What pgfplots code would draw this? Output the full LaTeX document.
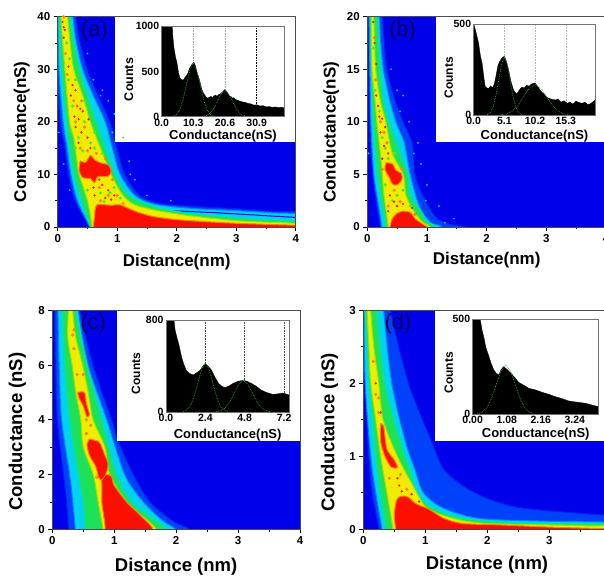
\documentclass[border=0pt]{standalone}
\usepackage{fontspec}
\setmainfont{Liberation Sans}
\usepackage{pgfplots}
\pgfplotsset{compat=1.18}
\definecolor{hb}{RGB}{0,0,235}
\definecolor{L1}{RGB}{0,65,250}\definecolor{D1}{RGB}{0,30,240}
\definecolor{L2}{RGB}{0,210,240}\definecolor{D2}{RGB}{0,130,255}
\definecolor{L3}{RGB}{30,225,90}\definecolor{D3}{RGB}{0,230,170}
\definecolor{L4}{RGB}{240,235,0}\definecolor{D4}{RGB}{150,230,0}
\definecolor{L5}{RGB}{250,15,0}\definecolor{D5}{RGB}{255,130,0}
\definecolor{fitg}{RGB}{70,165,70}
\newcommand\lev[2]{\addplot[smooth,fill=L#1,draw=D#1,line width=1pt,forget plot] coordinates {#2};}
\newcommand\specks[1]{\addplot[only marks,color=L5,mark=*,mark size=.9pt,mark options={draw=L5,fill=L5},forget plot] coordinates {#1};}
\newcommand\gsp[1]{\addplot[only marks,color=L3,mark=*,mark size=1.5pt,mark options={draw=D4,fill=L3},forget plot] coordinates {#1};}
\newcommand\osp[1]{\addplot[only marks,color=D5,mark=*,mark size=1.4pt,mark options={draw=D5,fill=D5},forget plot] coordinates {#1};}
\newcommand\csp[1]{\addplot[only marks,color=L2,mark=*,mark size=.7pt,mark options={draw=L2,fill=L2},forget plot] coordinates {#1};}
\newcommand\mf[1]{\fontsize{#1}{#1}\selectfont\bfseries}
\pgfplotsset{
 main/.style={scale only axis,xmin=0,xmax=4,xtick={0,1,2,3,4},minor x tick num=1,minor y tick num=1,
  tick align=outside,xtick pos=bottom,ytick pos=left,major tick length=4pt,minor tick length=2.5pt,
  axis on top,axis line style={draw=black!70,line width=.7pt},tick style={black,line width=.8pt},
  /pgf/number format/assume math mode=true,/pgf/number format/1000 sep={},ticklabel style={font=\mf{11.5}}},
 inset/.style={scale only axis,xmin=0,tick align=inside,xtick pos=bottom,ytick pos=left,
  major tick length=2pt,axis on top,axis line style={draw=black!55,line width=.5pt},tick style={black,line width=.5pt},
  /pgf/number format/assume math mode=true,/pgf/number format/1000 sep={},ticklabel style={font=\mf{10.5}},
  xticklabel style={yshift=1.5pt},yticklabel style={xshift=1pt},
  scaled ticks=false},
 fit/.style={fitg,densely dotted,line width=.7pt,forget plot},
 xl/.style n args={3}{xlabel style={font=\mf{#1},at={([xshift=#3,yshift=#2]axis description cs:.5,0)},anchor=center}},
 yl/.style n args={3}{ylabel style={font=\mf{#1},at={([xshift=#2,yshift=#3]axis description cs:0,.5)},anchor=center}},
}
\newcommand\vl[3]{\addplot[#3,densely dotted,line width=.6pt,forget plot] coordinates {(#1,0)(#1,#2)};}
\begin{document}
\begin{tikzpicture}
\useasboundingbox (0pt,0pt) rectangle (604pt,575pt);
\clip (0pt,0pt) rectangle (604pt,575pt);
% ---------- (a)
\begin{axis}[main,at={(57.7pt,348pt)},anchor=south west,width=238pt,height=210.3pt,ymin=0,ymax=40,ytick={0,10,20,30,40},
 xlabel={Distance(nm)},ylabel={Conductance(nS)},
 xl={17}{-34.7pt}{0pt},yl={17}{-36pt}{-10pt}]
\addplot[fill=hb,draw=none,forget plot] coordinates {(-1,-1)(5,-1)(5,41)(-1,41)} --cycle;
\lev{1}{(.29,42)(.36,36)(.5,30)(.68,25)(.88,20)(1.0,15)(1.13,10)(1.38,6)(1.72,4.5)(2.3,3.9)(2.95,3.5)(3.6,3)(4.2,2.6)(4.2,-1)(.55,-1)(.53,0)(.29,5)(.18,10)(.12,15)(.04,20)(-.02,30)(-.02,42)}
\csp{(.5,33)(.6,28)(.75,26)(.85,24)(.95,21.5)(1.1,17)(1.2,12.5)(1.3,9)(1.5,6)(1.9,5)(.02,18)(.1,12)(.2,7)(.42,3)(.72,25)(.92,18)(1.22,10)}
\lev{2}{(.24,42)(.3,36)(.42,30)(.6,25)(.8,20)(.92,15)(1.05,10)(1.3,6)(1.65,4.3)(2.3,3.5)(3,3.1)(3.6,2.7)(4.2,2.2)(4.2,-1)(.56,-1)(.54,0)(.33,5)(.22,10)(.16,15)(.09,20)(.02,30)(.0,42)}
\addplot[draw=hb,line width=1pt,forget plot] coordinates {(1.9,3.1)(2.6,2.75)(3.2,2.35)(4.1,1.75)};
\lev{3}{(.2,42)(.26,36)(.375,30)(.5,25)(.65,20)(.8,15)(.96,10)(1.2,6)(1.66,3.8)(2.2,2.6)(2.67,2.1)(3.3,1.5)(4.2,.9)(4.2,-1)(.57,-1)(.55,0)(.4,5)(.27,10)(.2,15)(.15,20)(.07,30)(.02,42)}
\lev{4}{(.15,42)(.2,36)(.27,30)(.42,25)(.55,20)(.72,15)(.9,10)(1.1,6)(1.35,4)(2,2.5)(3,1.2)(4.2,.5)(4.2,-1)(.59,-1)(.58,0)(.5,5)(.36,10)(.32,13)(.27,17)(.2,20)(.12,30)(.04,42)}
\gsp{(.15,35)(.2,32)(.18,28)(.3,28)(.25,23)(.45,24)(.35,17)(.45,20)(.55,16)(.42,14.5)(.62,15)(.75,14)(.5,7)(.72,6.5)(.88,6.5)(.78,4.8)(.95,7.5)(1.05,5.5)(.62,18)(.3,15)}
\osp{(.1,40)(.13,33)(.16,29)(.27,24)(.4,24)(.3,20)(.45,19)(.38,15)(.5,14.5)(.65,14)(.8,13)(.92,9)(.7,7.5)(.85,6)(1.0,6)(.72,5)(1.1,4.5)}
\lev{5}{(.6,-1)(.6,0)(.62,2)(.66,4.2)(.9,4.1)(1.05,4.2)(1.3,3)(1.6,2)(2,1.4)(2.5,1)(3,.7)(3.5,.5)(4.2,.15)(4.2,-1)}
\lev{5}{(.38,12.6)(.47,12.3)(.55,13.6)(.62,12.8)(.72,12.2)(.85,11.8)(.9,10.5)(.84,9.6)(.68,9.6)(.62,8.4)(.55,9.2)(.42,9.4)(.36,10.8)(.38,12.6)}
\specks{(.08,39)(.1,38)(.12,37.5)(.1,36)(.18,30.5)(.25,27)(.3,26)(.22,25)(.33,23)(.38,22.5)(.42,22)(.28,21)(.35,20.5)(.52,20.5)(.3,19)(.4,18)(.5,17)(.35,16)(.55,15)(.7,9)(.75,8)(.85,7)(.95,6)(.6,7.5)(.62,6)(.9,5.2)(.8,5.5)}
\addplot[fill=white,draw=none,forget plot] coordinates {(.96,16.1)(4.1,16.1)(4.1,41)(.96,41)} --cycle;
\node[font=\fontsize{22}{22}\selectfont,text=blue!35!black] at (axis cs:.62,37.4) {(a)};
\end{axis}
\begin{axis}[inset,at={(161.7pt,458.3pt)},anchor=south west,width=122.6pt,height=90.4pt,xmax=39.9,ymin=0,ymax=1000,
 xtick={0,10.3,20.6,30.9},xticklabels={0.0,10.3,20.6,30.9},ytick={0,500,1000},
 xlabel={Conductance(nS)},ylabel={Counts},
 xl={13}{-19.3pt}{0pt},yl={12.5}{-33pt}{-8pt}]
\vl{10.3}{1000}{gray!70}\vl{20.6}{1000}{gray!70}\vl{30.9}{1000}{black}
\addplot[fill=black,draw=black,line width=.3pt,forget plot] coordinates {(0,0)(0,1500)(3,1400)(3.6,900)(4,760)(4.5,660)(5,590)(5.5,480)(6,425)(6.5,410)(7,405)(7.5,430)(8,450)(8.5,480)(9,530)(9.5,560)(10,585)(10.5,600)(11,560)(11.5,490)(12,440)(12.5,380)(13,310)(13.5,265)(14,240)(14.5,215)(15,205)(15.5,215)(16,225)(16.5,210)(17,230)(17.5,240)(18,225)(18.5,245)(19,250)(19.5,265)(20,280)(20.5,300)(21,285)(21.5,260)(22,230)(22.5,225)(23,205)(23.5,210)(24,190)(25,178)(26,165)(27,160)(28,148)(29,142)(30,128)(31,132)(32,118)(33,122)(34,108)(35,112)(36,104)(37,108)(38,100)(39,106)(39.9,96)(39.9,0)};
\addplot[fit] coordinates {(3.7,6)(4.8,26)(5.9,80)(7,192)(8.1,358)(9.2,520)(10.3,590)(11.4,520)(12.5,358)(13.6,192)(14.7,80)(15.8,26)(16.9,6)};
\addplot[fit] coordinates {(13.4,3)(14.6,13)(15.8,39)(17,94)(18.2,176)(19.4,256)(20.6,290)(21.8,256)(23,176)(24.2,94)(25.4,39)(26.6,13)(27.8,3)};
\end{axis}
% ---------- (b)
\begin{axis}[main,at={(367.3pt,348pt)},anchor=south west,width=238.7pt,height=210.3pt,ymin=0,ymax=20,ytick={0,5,10,15,20},
 xlabel={Distance(nm)},ylabel={Conductance(nS)},
 xl={17}{-33pt}{0pt},yl={17}{-36pt}{-10.5pt}]
\addplot[fill=hb,draw=none,forget plot] coordinates {(-1,-1)(5,-1)(5,21)(-1,21)} --cycle;
\lev{1}{(.25,21)(.28,18)(.33,15)(.47,12)(.6,10)(.75,8)(.8,5)(.93,3)(1.14,1)(1.36,.3)(1.64,0)(1.7,-1)(.2,-1)(.22,0)(.16,2)(.09,5)(.04,10)(.02,20)(.02,21)}
\csp{(.4,15)(.5,13)(.6,12.5)(.7,10)(.85,8)(.9,6)(1.0,4)(1.2,2)(1.45,.8)(.02,7)(.55,11)(.78,7)(.98,2.5)(1.3,.4)}
\lev{2}{(.2,21)(.22,18)(.27,15)(.38,12)(.48,10)(.62,8)(.72,5)(.87,2)(1.05,.5)(1.25,0)(1.3,-1)(.22,-1)(.24,0)(.19,2)(.11,5)(.06,10)(.03,20)(.03,21)}
\lev{3}{(.17,21)(.19,18)(.22,15)(.27,12)(.36,10)(.55,7)(.68,5)(.72,3)(.9,1.5)(1.0,.5)(1.15,0)(1.2,-1)(.29,-1)(.31,0)(.25,2)(.17,5)(.1,10)(.07,15)(.05,20)(.05,21)}
\lev{4}{(.1,21)(.12,18)(.14,15)(.22,12)(.31,10)(.42,7)(.6,5)(.65,3)(.78,1.5)(.92,.5)(1.05,0)(1.1,-1)(.33,-1)(.35,0)(.28,3)(.25,5)(.22,7)(.16,10)(.13,12)(.08,15)(.07,20)(.07,21)}
\gsp{(.1,17)(.13,13)(.2,11)(.25,8.5)(.3,7.5)(.35,6.5)(.45,7)(.3,4)(.5,3)(.6,3.5)(.42,2.5)(.72,2)}
\osp{(.12,18)(.14,14)(.22,10)(.28,9)(.33,8)(.25,5.5)(.58,5.5)(.45,3.5)(.55,2.4)(.35,2)(.8,1.2)}
\lev{5}{(.37,-1)(.38,0)(.42,.8)(.5,1.3)(.6,1.5)(.72,1.4)(.8,.8)(.95,.2)(1.0,0)(1.02,-1)}
\lev{5}{(.31,6.1)(.42,6.0)(.48,5.4)(.57,5.1)(.58,4.5)(.5,4)(.42,4.1)(.36,4.8)(.3,5.4)(.31,6.1)}
\specks{(.1,19.5)(.12,17.5)(.15,15.5)(.15,12.5)(.18,11.5)(.2,10.5)(.25,10.3)(.3,9.5)(.22,9)(.28,7.7)(.35,7)(.25,6.5)(.38,3)(.5,2)(.45,2.4)(.35,1.5)(.6,2.2)(.75,1.8)}
\addplot[fill=white,draw=none,forget plot] coordinates {(1.15,8.05)(4.1,8.05)(4.1,21)(1.15,21)} --cycle;
\node[font=\fontsize{22}{22}\selectfont,text=blue!35!black] at (axis cs:.59,18.7) {(b)};
\end{axis}
\begin{axis}[inset,at={(473.7pt,459.7pt)},anchor=south west,width=121.6pt,height=91pt,xmax=20.2,ymin=0,ymax=500,
 xtick={0,5.1,10.2,15.3},xticklabels={0.0,5.1,10.2,15.3},ytick={0,500},
 xlabel={Conductance(nS)},ylabel={Counts},
 xl={13}{-20.7pt}{0pt},yl={12}{-25pt}{-8pt}]
\vl{5.1}{500}{gray!60}\vl{10.2}{500}{gray!60}\vl{15.3}{500}{gray!60}
\addplot[fill=black,draw=black,line width=.3pt,forget plot] coordinates {(0,0)(0,500)(.2,480)(.5,440)(.83,395)(1.1,330)(1.4,285)(1.7,205)(1.9,160)(2.2,150)(2.5,148)(2.8,162)(3.1,150)(3.4,170)(3.7,215)(4,270)(4.3,295)(4.7,315)(5.1,325)(5.4,300)(5.8,250)(6.2,185)(6.6,140)(6.9,125)(7.2,120)(7.6,140)(8,155)(8.4,150)(8.8,165)(9.2,160)(9.6,172)(10.2,178)(10.6,160)(11,140)(11.3,128)(11.8,112)(12.2,98)(12.6,92)(13,88)(13.6,84)(14,90)(14.5,72)(15,80)(15.5,66)(16,72)(16.5,62)(17,78)(17.5,70)(18,66)(18.5,72)(19,58)(19.5,66)(20.2,84)(20.2,0)};
\addplot[fit] coordinates {(2.25,3.5)(2.725,14)(3.2,43)(3.675,104)(4.15,194)(4.625,282)(5.1,320)(5.575,282)(6.05,194)(6.525,104)(7,43)(7.475,14)(7.95,3.5)};
\addplot[fit] coordinates {(4.5,2)(5.45,7.5)(6.4,23)(7.35,55)(8.3,103)(9.25,150)(10.2,170)(11.15,150)(12.1,103)(13.05,55)(14,23)(14.95,7.5)(15.9,2)};
\end{axis}
% ---------- (c)
\begin{axis}[main,at={(52.3pt,45.7pt)},anchor=south west,width=247.7pt,height=219pt,ymin=0,ymax=8,ytick={0,2,4,6,8},
 xlabel={Distance (nm)},ylabel={Conductance (nS)},
 xl={18.5}{-37.4pt}{0pt},yl={18.5}{-35pt}{-11.9pt}]
\addplot[fill=hb,draw=none,forget plot] coordinates {(-1,-1)(5,-1)(5,9)(-1,9)} --cycle;
\lev{1}{(.47,8.4)(.45,8)(.66,6)(.96,4)(1.07,3.2)(1.31,2)(1.58,1)(1.95,.3)(2.22,0)(2.3,-.4)(.25,-.4)(.26,0)(.23,1)(.18,2)(.08,4)(.05,6)(.04,8)(.04,8.4)}
\lev{2}{(.44,8.4)(.42,8)(.58,6)(.88,4)(1.17,2)(1.47,1)(1.79,.3)(2.0,0)(2.05,-.4)(.36,-.4)(.37,0)(.33,1)(.28,2)(.15,4)(.11,6)(.09,8)(.09,8.4)}
\lev{3}{(.4,8.4)(.38,8)(.56,6)(.8,4)(1.04,2)(1.28,1)(1.68,.3)(1.85,0)(1.9,-.4)(.53,-.4)(.53,0)(.5,1)(.42,2)(.28,4)(.2,6)(.16,8)(.16,8.4)}
\lev{4}{(.34,8.4)(.33,8)(.38,7)(.49,6)(.58,5)(.66,4)(.85,3)(.93,2)(1.2,1)(1.55,.3)(1.68,0)(1.72,-.4)(.82,-.4)(.82,0)(.74,1)(.66,2)(.5,3)(.46,4)(.38,5)(.32,6)(.25,7)(.26,8)(.26,8.4)}
\osp{(.35,7.3)(.33,7.1)(.4,5.65)(.5,5.65)(.35,6.6)(.62,3.8)(.55,3.5)(.55,4.0)(.72,1.9)}
\lev{5}{(.86,-.4)(.85,.16)(.82,.65)(.8,1)(.8,1.6)(.8,2.0)(.95,1.95)(1.0,1.6)(1.2,1)(1.36,.65)(1.58,.16)(1.62,0)(1.62,-.4)}
\lev{5}{(.6,3.3)(.75,3.2)(.8,3.0)(.85,2.7)(.9,2.4)(.88,2.1)(.8,1.8)(.75,1.9)(.7,2.3)(.6,2.7)(.56,3.1)(.6,3.3)}
\lev{5}{(.41,5)(.52,5)(.55,4.6)(.6,4.2)(.56,4.1)(.5,4.5)(.43,4.8)(.41,5)}
\addplot[fill=white,draw=none,forget plot] coordinates {(1.04,3.23)(4.1,3.23)(4.1,9)(1.04,9)} --cycle;
\node[font=\fontsize{22}{22}\selectfont,text=blue!35!black] at (axis cs:.66,7.5) {(c)};
\end{axis}
\begin{axis}[inset,at={(166pt,163pt)},anchor=south west,width=123.3pt,height=91.7pt,xmax=7.52,ymin=0,ymax=800,
 xtick={0,2.4,4.8,7.2},xticklabels={0.0,2.4,4.8,7.2},ytick={0,800},
 xlabel={Conductance(nS)},ylabel={Counts},
 xl={13}{-23pt}{0pt},yl={12}{-30pt}{-7.5pt}]
\vl{2.4}{800}{black!70}\vl{4.8}{800}{black!70}\vl{7.2}{800}{black!70}
\addplot[fill=black,draw=black,line width=.3pt,forget plot] coordinates {(0,0)(0,800)(.49,800)(.55,720)(.65,657)(.8,580)(.96,474)(1.1,410)(1.26,358)(1.45,335)(1.67,323)(1.85,340)(2.08,364)(2.25,400)(2.4,425)(2.6,395)(2.78,364)(3,300)(3.2,250)(3.4,225)(3.6,212)(3.85,228)(4.1,250)(4.4,268)(4.7,276)(4.95,268)(5.2,250)(5.5,225)(5.8,192)(6.1,172)(6.5,154)(6.8,158)(7.15,165)(7.52,148)(7.52,0)};
\addplot[fit] coordinates {(1.05,5)(1.275,19)(1.5,57)(1.725,138)(1.95,258)(2.175,375)(2.4,425)(2.625,375)(2.85,258)(3.075,138)(3.3,57)(3.525,19)(3.75,5)};
\addplot[fit] coordinates {(3.07,3)(3.345,12)(3.62,37)(3.895,89)(4.17,167)(4.445,243)(4.72,275)(4.995,243)(5.27,167)(5.545,89)(5.82,37)(6.095,12)(6.37,3)};
\end{axis}
% ---------- (d)
\begin{axis}[main,at={(363.3pt,45.7pt)},anchor=south west,width=248pt,height=219pt,ymin=0,ymax=3,ytick={0,1,2,3},
 xlabel={Distance (nm)},ylabel={Conductance (nS)},
 xl={18.5}{-35pt}{-.3pt},yl={18.5}{-33.6pt}{-12.5pt}]
\addplot[fill=hb,draw=none,forget plot] coordinates {(-1,-1)(5,-1)(5,3.2)(-1,3.2)} --cycle;
\lev{1}{(.47,3.2)(.44,3)(.73,2)(1.1,1.21)(1.32,.8)(1.8,.5)(2.5,.3)(3.8,.2)(4.2,.18)(4.2,-.2)(.24,-.2)(.25,0)(.14,.5)(.09,1)(.06,1.5)(0,3)(0,3.2)}
\lev{2}{(.35,3.2)(.33,3)(.46,2)(.68,1.2)(.84,.8)(.97,.5)(1.27,.3)(1.86,.15)(3,.11)(3.85,.1)(4.2,.08)(4.2,-.2)(.3,-.2)(.3,0)(.2,.5)(.12,1)(.03,2)(.01,3)(.01,3.2)}
\lev{3}{(.23,3.2)(.22,3)(.35,2)(.6,1.2)(.76,.8)(.87,.5)(1.1,.3)(1.6,.15)(2.5,.09)(3.75,.08)(4.2,.05)(4.2,-.2)(.36,-.2)(.36,0)(.27,.5)(.2,1)(.1,2)(.03,3)(.03,3.2)}
\lev{4}{(.13,3.2)(.12,3)(.17,2.5)(.25,2)(.32,1.5)(.55,1)(.8,.6)(1.02,.3)(1.45,.15)(2,.08)(3.5,.05)(4.2,.02)(4.2,-.2)(.48,-.2)(.48,0)(.38,.5)(.28,1)(.2,1.5)(.12,2)(.09,2.5)(.06,3)(.06,3.2)}
\osp{(.16,2.3)(.2,1.85)(.25,1.8)(.25,1.6)(.42,.7)(.6,.75)(.7,.55)}
\lev{5}{(.52,-.2)(.52,0)(.5,.2)(.55,.42)(.7,.45)(.85,.35)(1.05,.28)(1.3,.15)(1.6,.08)(2.2,.06)(3,.03)(3.8,.01)(4.2,-.01)(4.2,-.2)}
\lev{5}{(.28,1.45)(.33,1.4)(.38,1.1)(.5,.95)(.55,.85)(.45,.85)(.35,1.0)(.28,1.2)(.28,1.45)}
\specks{(.2,2)(.28,1.6)(.55,.7)(.58,.6)(.62,.52)(.78,.48)(.9,.38)}
\addplot[fill=white,draw=none,forget plot] coordinates {(1.16,1.21)(4.2,1.21)(4.2,3.2)(1.16,3.2)} --cycle;
\node[font=\fontsize{22}{22}\selectfont,text=blue!35!black] at (axis cs:.56,2.81) {(d)};
\end{axis}
\begin{axis}[inset,at={(472.7pt,160.7pt)},anchor=south west,width=126pt,height=95pt,xmax=4.0,ymin=0,ymax=500,
 xtick={0,1.08,2.16,3.24},xticklabels={0.00,1.08,2.16,3.24},ytick={0,500},
 xlabel={Conductance(nS)},ylabel={Counts},
 xl={13}{-20pt}{0pt},yl={12}{-24pt}{-6pt}]
\addplot[fill=black,draw=black,line width=.3pt,forget plot] coordinates {(0,0)(0,520)(.24,500)(.3,440)(.35,409)(.42,350)(.5,312)(.58,270)(.67,233)(.75,215)(.83,207)(.9,235)(.98,251)(1.1,235)(1.25,210)(1.35,190)(1.46,168)(1.6,155)(1.78,137)(2,128)(2.2,116)(2.4,106)(2.62,93)(2.85,82)(3.05,70)(3.3,64)(3.58,58)(3.8,48)(4,40)(4,0)};
\addplot[fit] coordinates {(.15,2.9)(.3,11.4)(.45,35)(.6,85)(.75,158)(.9,229)(1.05,260)(1.2,229)(1.35,158)(1.5,85)(1.65,35)(1.8,11.4)(1.95,2.9)};
\end{axis}
\end{tikzpicture}
\end{document}
